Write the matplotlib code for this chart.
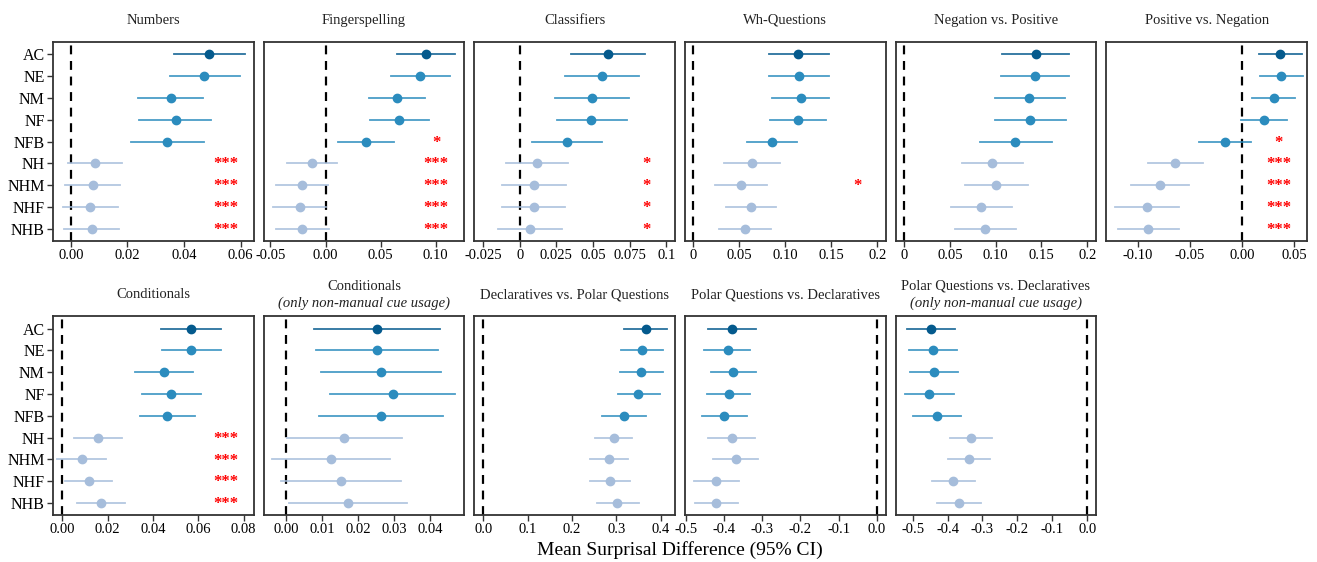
import matplotlib
matplotlib.use("Agg")
import matplotlib.pyplot as plt
import matplotlib.transforms as mtransforms

plt.rcParams['font.family'] = ['Liberation Serif', 'DejaVu Serif']
plt.rcParams['axes.unicode_minus'] = False

groups = ['AC', 'NE', 'NM', 'NF', 'NFB', 'NH', 'NHM', 'NHF', 'NHB']
colors = ['#045a8d'] + ['#2b8cbe'] * 4 + ['#a6bddb'] * 4

titles = ['Numbers', 'Fingerspelling', 'Classifiers', 'Wh-Questions',
          'Negation vs. Positive', 'Positive vs. Negation',
          'Conditionals', 'Conditionals',
          'Declaratives vs. Polar Questions', 'Polar Questions vs. Declaratives',
          'Polar Questions vs. Declaratives']
subtitles = [None] * 7 + ['(only non-manual cue usage)', None, None,
                          '(only non-manual cue usage)']

# means and 95% CI bounds, rows in order of groups
numbers_mean = [0.0489, 0.0472, 0.0353, 0.0370, 0.0340, 0.0087, 0.0078, 0.0069, 0.0074]
numbers_lo = [0.0363, 0.0349, 0.0239, 0.0242, 0.0211, -0.0009, -0.0019, -0.0028, -0.0025]
numbers_hi = [0.0615, 0.0599, 0.0468, 0.0495, 0.0469, 0.0181, 0.0173, 0.0166, 0.0170]

finger_mean = [0.0912, 0.0861, 0.0650, 0.0671, 0.0367, -0.0126, -0.0217, -0.0235, -0.0213]
finger_lo = [0.0647, 0.0596, 0.0397, 0.0403, 0.0115, -0.0352, -0.0454, -0.0481, -0.0454]
finger_hi = [0.1177, 0.1132, 0.0903, 0.0936, 0.0626, 0.0103, 0.0024, 0.0000, 0.0033]

classif_mean = [0.0602, 0.0561, 0.0493, 0.0488, 0.0323, 0.0116, 0.0100, 0.0098, 0.0072]
classif_lo = [0.0348, 0.0311, 0.0243, 0.0254, 0.0084, -0.0095, -0.0121, -0.0121, -0.0146]
classif_hi = [0.0857, 0.0812, 0.0743, 0.0730, 0.0564, 0.0327, 0.0314, 0.0312, 0.0291]

wh_mean = [0.1139, 0.1150, 0.1165, 0.1136, 0.0857, 0.0637, 0.0521, 0.0623, 0.0561]
wh_lo = [0.0818, 0.0824, 0.0857, 0.0835, 0.0586, 0.0333, 0.0239, 0.0355, 0.0282]
wh_hi = [0.1469, 0.1479, 0.1475, 0.1443, 0.1128, 0.0944, 0.0803, 0.0897, 0.0839]

negpos_mean = [0.1435, 0.1432, 0.1369, 0.1377, 0.1216, 0.0962, 0.1001, 0.0837, 0.0885]
negpos_lo = [0.1067, 0.1056, 0.0987, 0.0991, 0.0823, 0.0626, 0.0659, 0.0506, 0.0553]
negpos_hi = [0.1799, 0.1803, 0.1755, 0.1766, 0.1610, 0.1300, 0.1355, 0.1180, 0.1224]

posneg_mean = [0.0366, 0.0376, 0.0301, 0.0206, -0.0161, -0.0639, -0.0790, -0.0911, -0.0897]
posneg_lo = [0.0163, 0.0173, 0.0095, -0.0013, -0.0417, -0.0897, -0.1068, -0.1215, -0.1189]
posneg_hi = [0.0570, 0.0583, 0.0508, 0.0432, 0.0088, -0.0377, -0.0505, -0.0609, -0.0606]

cond_mean = [0.0567, 0.0568, 0.0447, 0.0481, 0.0463, 0.0157, 0.0087, 0.0117, 0.0171]
cond_lo = [0.0434, 0.0439, 0.0321, 0.0353, 0.0342, 0.0051, -0.0021, 0.0014, 0.0063]
cond_hi = [0.0701, 0.0700, 0.0575, 0.0610, 0.0584, 0.0262, 0.0194, 0.0221, 0.0278]

condnm_mean = [0.0251, 0.0252, 0.0263, 0.0295, 0.0263, 0.0160, 0.0125, 0.0152, 0.0171]
condnm_lo = [0.0077, 0.0083, 0.0095, 0.0122, 0.0091, 0.0001, -0.0040, -0.0014, 0.0007]
condnm_hi = [0.0426, 0.0422, 0.0430, 0.0469, 0.0436, 0.0322, 0.0289, 0.0319, 0.0335]

declpol_mean = [0.3656, 0.3566, 0.3551, 0.3498, 0.3168, 0.2943, 0.2838, 0.2860, 0.3018]
declpol_lo = [0.3176, 0.3101, 0.3078, 0.3026, 0.2680, 0.2523, 0.2417, 0.2417, 0.2568]
declpol_hi = [0.4129, 0.4039, 0.4039, 0.3979, 0.3664, 0.3363, 0.3251, 0.3311, 0.3514]

poldecl_mean = [-0.3783, -0.3904, -0.3757, -0.3878, -0.3991, -0.3800, -0.3696, -0.4200, -0.4200]
poldecl_lo = [-0.4409, -0.4513, -0.4348, -0.4452, -0.4574, -0.4409, -0.4296, -0.4783, -0.4765]
poldecl_hi = [-0.3157, -0.3322, -0.3165, -0.3313, -0.3391, -0.3200, -0.3104, -0.3609, -0.3635]

poldeclnm_mean = [-0.4476, -0.4419, -0.4390, -0.4524, -0.4305, -0.3324, -0.3381, -0.3848, -0.3667]
poldeclnm_lo = [-0.5162, -0.5105, -0.5086, -0.5229, -0.4981, -0.3924, -0.4000, -0.4457, -0.4295]
poldeclnm_hi = [-0.3781, -0.3743, -0.3695, -0.3810, -0.3610, -0.2724, -0.2771, -0.3219, -0.3038]

# significance marks per row
stars_numbers = ['', '', '', '', '', '***', '***', '***', '***']
stars_finger = ['', '', '', '', '*', '***', '***', '***', '***']
stars_classif = ['', '', '', '', '', '*', '*', '*', '*']
stars_wh = ['', '', '', '', '', '', '*', '', '']
stars_none = [''] * 9
stars_posneg = ['', '', '', '', '*', '***', '***', '***', '***']
stars_cond = ['', '', '', '', '', '***', '***', '***', '***']

panels = [
    (numbers_mean, numbers_lo, numbers_hi, stars_numbers),
    (finger_mean, finger_lo, finger_hi, stars_finger),
    (classif_mean, classif_lo, classif_hi, stars_classif),
    (wh_mean, wh_lo, wh_hi, stars_wh),
    (negpos_mean, negpos_lo, negpos_hi, stars_none),
    (posneg_mean, posneg_lo, posneg_hi, stars_posneg),
    (cond_mean, cond_lo, cond_hi, stars_cond),
    (condnm_mean, condnm_lo, condnm_hi, stars_none),
    (declpol_mean, declpol_lo, declpol_hi, stars_none),
    (poldecl_mean, poldecl_lo, poldecl_hi, stars_none),
    (poldeclnm_mean, poldeclnm_lo, poldeclnm_hi, stars_none),
]

xlims = [(-0.0063, 0.0646), (-0.0562, 0.126), (-0.031, 0.106), (-0.0093, 0.209),
         (-0.0095, 0.210), (-0.130, 0.062), (-0.0041, 0.0844), (-0.0063, 0.0494),
         (-0.020, 0.432), (-0.502, 0.023), (-0.5486, 0.0257)]
xticks = [
    ([0, 0.02, 0.04, 0.06], ['0.00', '0.02', '0.04', '0.06']),
    ([-0.05, 0, 0.05, 0.10], ['-0.05', '0.00', '0.05', '0.10']),
    ([-0.025, 0, 0.025, 0.05, 0.075, 0.1], ['-0.025', '0', '0.025', '0.05', '0.075', '0.1']),
    ([0, 0.05, 0.10, 0.15, 0.2], ['0', '0.05', '0.10', '0.15', '0.2']),
    ([0, 0.05, 0.10, 0.15, 0.2], ['0', '0.05', '0.10', '0.15', '0.2']),
    ([-0.10, -0.05, 0, 0.05], ['-0.10', '-0.05', '0.00', '0.05']),
    ([0, 0.02, 0.04, 0.06, 0.08], ['0.00', '0.02', '0.04', '0.06', '0.08']),
    ([0, 0.01, 0.02, 0.03, 0.04], ['0.00', '0.01', '0.02', '0.03', '0.04']),
    ([0, 0.1, 0.2, 0.3, 0.4], ['0.0', '0.1', '0.2', '0.3', '0.4']),
    ([-0.5, -0.4, -0.3, -0.2, -0.1, 0], ['-0.5', '-0.4', '-0.3', '-0.2', '-0.1', '0.0']),
    ([-0.5, -0.4, -0.3, -0.2, -0.1, 0], ['-0.5', '-0.4', '-0.3', '-0.2', '-0.1', '0.0']),
]

fig, axes = plt.subplots(2, 6, figsize=(13.17, 5.62), dpi=100)
fig.subplots_adjust(left=0.0402, right=0.9924, top=0.9253, bottom=0.0836,
                    wspace=0.0495, hspace=0.38)
axes = axes.flatten()
axes[11].axis('off')

ypos = list(range(len(groups)))
for i, (mean, lo, hi, stars) in enumerate(panels):
    ax = axes[i]
    ax.axvline(0, color='black', linestyle=(0, (4, 3)), lw=1.6, zorder=1)
    trans = mtransforms.blended_transform_factory(ax.transAxes, ax.transData)
    for j in ypos:
        ax.plot([lo[j], hi[j]], [j, j], color=colors[j], lw=1.3, alpha=0.85, zorder=2)
        ax.plot(mean[j], j, 'o', color=colors[j], ms=6, zorder=3)
        if stars[j]:
            ax.text(0.86, j + 0.05, stars[j], color='red', fontsize=12,
                    fontweight='bold', ha='center', va='center', transform=trans)
    ax.set_xlim(*xlims[i])
    ax.set_ylim(8.55, -0.57)
    ax.set_xticks(xticks[i][0])
    ax.set_xticklabels(xticks[i][1])
    ax.tick_params(axis='x', labelsize=10.5, length=4, width=1, color='#333333', pad=2)
    if i % 6 == 0:
        ax.set_yticks(ypos)
        ax.set_yticklabels(groups)
        ax.tick_params(axis='y', labelsize=11.5, length=4, width=1, color='#333333', pad=2)
    else:
        ax.set_yticks([])
    for s in ax.spines.values():
        s.set_color('#333333')
        s.set_linewidth(1.3)
    if subtitles[i]:
        ax.set_title(titles[i], fontsize=10.5, pad=19, color='#222222')
        ax.annotate(subtitles[i], xy=(0.5, 1), xycoords='axes fraction',
                    xytext=(0, 7), textcoords='offset points', ha='center',
                    va='baseline', fontsize=10.5, style='italic', color='#222222')
    else:
        ax.set_title(titles[i], fontsize=10.5, pad=13, color='#222222')

fig.text(680 / 1317, 1 - 550 / 562, 'Mean Surprisal Difference (95% CI)',
         ha='center', va='center', fontsize=14)

fig.savefig('out.png', dpi=100)
